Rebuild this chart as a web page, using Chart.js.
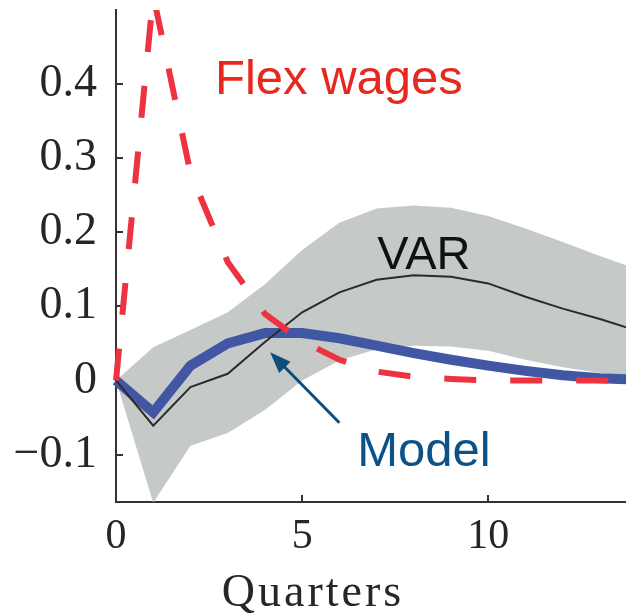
<!DOCTYPE html>
<html>
<head>
<meta charset="utf-8">
<script src="https://cdn.jsdelivr.net/npm/chart.js@4.4.1/dist/chart.umd.min.js"></script>
<style>
  html, body { margin: 0; padding: 0; background: #fff; overflow: hidden; }
  #irf { display: block; }
</style>
</head>
<body>
<canvas id="irf" width="626" height="616"></canvas>
<script>
// impulse responses by quarter after the shock
const quarters   = [0, 1, 2, 3, 4, 5, 6, 7, 8, 9, 10, 11, 12, 13, 14];
const flexWages  = [0, 0.52, 0.28, 0.16, 0.09, 0.053, 0.028, 0.012, 0.005, 0.002, 0, 0, 0, 0, 0];
const model      = [0, -0.043, 0.02, 0.05, 0.064, 0.064, 0.057, 0.047, 0.037, 0.028, 0.02, 0.013, 0.007, 0.003, 0.001];
const varMedian  = [0, -0.061, -0.009, 0.009, 0.052, 0.092, 0.119, 0.136, 0.142, 0.14, 0.131, 0.113, 0.097, 0.083, 0.067];
const varUpper   = [0, 0.045, 0.068, 0.092, 0.13, 0.176, 0.213, 0.232, 0.236, 0.233, 0.222, 0.205, 0.187, 0.168, 0.15];
const varLower   = [0, -0.165, -0.088, -0.071, -0.04, 0.0, 0.027, 0.042, 0.047, 0.046, 0.04, 0.028, 0.018, 0.01, 0.005];

const xTicks = [0, 5, 10];
const yTicks = [-0.1, 0, 0.1, 0.2, 0.3, 0.4];
const yTickLabels = ['\u22120.1', '0', '0.1', '0.2', '0.3', '0.4'];

// text labels placed in data units
const notes = [
  { text: 'Flex wages', x: 2.66, y: 0.387, size: 49, color: '#e8281e' },
  { text: 'VAR', x: 7.02, y: 0.151, size: 47, color: '#111111' },
  { text: 'Model', x: 6.48, y: -0.115, size: 49, color: '#0b5289' }
];
const modelArrow = { from: [6.0, -0.057], to: [4.14, 0.038] };

const toPoints = ys => quarters.map((q, i) => ({ x: q, y: ys[i] }));
const clipBox = { left: 8, top: 0, right: 0, bottom: 0 };

const axisColor = '#333333';
const serif = '"Liberation Serif", "DejaVu Serif", serif';
const sans = '"Liberation Sans", Arial, sans-serif';

// tick marks point into the plot, like the original figure
const inwardTicks = {
  id: 'inwardTicks',
  beforeDatasetsDraw(chart) {
    const { ctx, chartArea, scales: { x, y } } = chart;
    ctx.save();
    ctx.strokeStyle = axisColor;
    ctx.lineWidth = 2;
    ctx.beginPath();
    yTicks.forEach(v => {
      const py = Math.round(y.getPixelForValue(v));
      ctx.moveTo(chartArea.left, py);
      ctx.lineTo(chartArea.left + 7, py);
    });
    xTicks.forEach(v => {
      const px = Math.round(x.getPixelForValue(v));
      ctx.moveTo(px, chartArea.bottom);
      ctx.lineTo(px, chartArea.bottom - 7);
    });
    ctx.stroke();
    ctx.restore();
  }
};

const labelsAndArrow = {
  id: 'labelsAndArrow',
  afterDatasetsDraw(chart) {
    const { ctx, scales: { x, y } } = chart;
    ctx.save();
    ctx.textAlign = 'left';
    ctx.textBaseline = 'alphabetic';
    notes.forEach(n => {
      ctx.font = n.size + 'px ' + sans;
      ctx.fillStyle = n.color;
      ctx.fillText(n.text, x.getPixelForValue(n.x), y.getPixelForValue(n.y));
    });

    // arrow pointing at the model line
    const x0 = x.getPixelForValue(modelArrow.from[0]);
    const y0 = y.getPixelForValue(modelArrow.from[1]);
    const x1 = x.getPixelForValue(modelArrow.to[0]);
    const y1 = y.getPixelForValue(modelArrow.to[1]);
    const ang = Math.atan2(y1 - y0, x1 - x0);
    const head = 21, half = 8;
    ctx.strokeStyle = '#0d4f7c';
    ctx.fillStyle = '#0d4f7c';
    ctx.lineWidth = 3;
    ctx.beginPath();
    ctx.moveTo(x0, y0);
    ctx.lineTo(x1 - Math.cos(ang) * head * 0.8, y1 - Math.sin(ang) * head * 0.8);
    ctx.stroke();
    ctx.beginPath();
    ctx.moveTo(x1, y1);
    ctx.lineTo(x1 - Math.cos(ang) * head + Math.sin(ang) * half, y1 - Math.sin(ang) * head - Math.cos(ang) * half);
    ctx.lineTo(x1 - Math.cos(ang) * head - Math.sin(ang) * half, y1 - Math.sin(ang) * head + Math.cos(ang) * half);
    ctx.closePath();
    ctx.fill();

    // axis title
    ctx.fillStyle = '#262626';
    ctx.font = '46px ' + serif;
    ctx.textAlign = 'center';
    ctx.letterSpacing = '3px';
    ctx.fillText('Quarters', 313, 606);
    ctx.restore();
  }
};

new Chart(document.getElementById('irf'), {
  type: 'line',
  data: {
    datasets: [
      {
        label: 'Flex wages',
        data: toPoints(flexWages),
        borderColor: '#ee3340',
        borderWidth: 6,
        borderDash: [32, 34],
        pointRadius: 0,
        fill: false,
        clip: clipBox,
        order: 0
      },
      {
        label: 'VAR',
        data: toPoints(varMedian),
        borderColor: '#2b2b2b',
        borderWidth: 2,
        pointRadius: 0,
        fill: false,
        clip: clipBox,
        order: 1
      },
      {
        label: 'Model',
        data: toPoints(model),
        borderColor: '#4257a4',
        borderWidth: 10,
        pointRadius: 0,
        fill: false,
        clip: clipBox,
        order: 2
      },
      {
        label: 'VAR upper',
        data: toPoints(varUpper),
        borderColor: 'rgba(0,0,0,0)',
        backgroundColor: '#c5cac9',
        borderWidth: 1,
        pointRadius: 0,
        fill: '+1',
        clip: clipBox,
        order: 3
      },
      {
        label: 'VAR lower',
        data: toPoints(varLower),
        borderColor: 'rgba(0,0,0,0)',
        borderWidth: 1,
        pointRadius: 0,
        fill: false,
        clip: clipBox,
        order: 4
      }
    ]
  },
  options: {
    responsive: false,
    animation: false,
    devicePixelRatio: 1,
    layout: { padding: { top: 10, left: 0, right: 0, bottom: 0 } },
    plugins: { legend: { display: false }, tooltip: { enabled: false } },
    scales: {
      x: {
        type: 'linear',
        min: 0,
        max: 13.7,
        grid: { display: false, drawTicks: false },
        border: { display: true, color: axisColor, width: 2 },
        afterBuildTicks: scale => { scale.ticks = xTicks.map(v => ({ value: v })); },
        afterFit: scale => {
          scale.height = 114;
          scale.paddingLeft = 0;
          scale.paddingRight = 0;
        },
        ticks: {
          color: '#262626',
          padding: 10,
          maxRotation: 0,
          autoSkip: false,
          font: { family: serif, size: 42 },
          callback: v => String(v)
        }
      },
      y: {
        type: 'linear',
        min: -0.164,
        max: 0.5,
        grid: { display: false, drawTicks: false },
        border: { display: true, color: axisColor, width: 2 },
        afterBuildTicks: scale => { scale.ticks = yTicks.map(v => ({ value: v })); },
        afterFit: scale => {
          scale.width = 116;
          scale.paddingTop = 0;
          scale.paddingBottom = 0;
        },
        ticks: {
          color: '#262626',
          padding: 19,
          autoSkip: false,
          font: { family: serif, size: 46 },
          callback: v => yTickLabels[yTicks.indexOf(v)]
        }
      }
    }
  },
  plugins: [inwardTicks, labelsAndArrow]
});
</script>
</body>
</html>
